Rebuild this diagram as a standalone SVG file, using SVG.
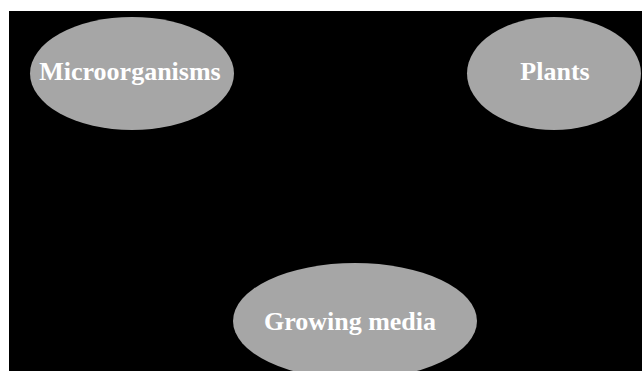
<svg xmlns="http://www.w3.org/2000/svg" width="642" height="371" viewBox="0 0 642 371">
<style>
.node ellipse{fill:#a6a6a6;}
.node text{fill:#ffffff;font-family:"Liberation Serif","Times New Roman",serif;font-weight:bold;font-size:26px;text-anchor:middle;}
</style>
<rect x="0" y="0" width="642" height="371" fill="#ffffff"/>
<rect x="9" y="11" width="633" height="360" fill="#000000"/>
<g id="connectors"></g>
<g id="microorganisms" class="node">
<ellipse cx="132" cy="73.5" rx="102" ry="56.5"/>
<text x="130" y="80">Microorganisms</text>
</g>
<g id="plants" class="node">
<ellipse cx="554" cy="73.5" rx="87" ry="56.5"/>
<text x="555" y="80">Plants</text>
</g>
<g id="growing-media" class="node">
<ellipse cx="355" cy="321" rx="122" ry="58"/>
<text x="350" y="330">Growing media</text>
</g>
</svg>
